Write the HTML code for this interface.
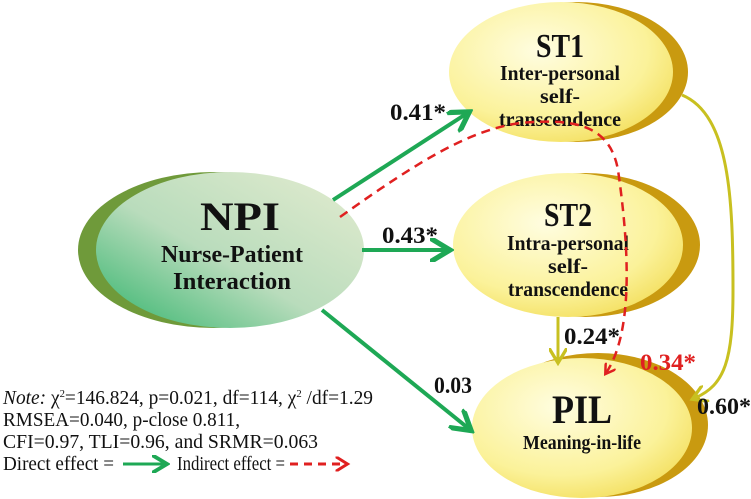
<!DOCTYPE html>
<html><head><meta charset="utf-8"><style>
body{margin:0;background:#fff;}
svg{display:block;}
text{font-family:"Liberation Serif",serif;font-weight:bold;fill:#111;text-anchor:middle;}
</style></head><body>
<svg width="751" height="499" viewBox="0 0 751 499" xmlns="http://www.w3.org/2000/svg">
<defs>
<linearGradient id="gn" x1="0" y1="1" x2="1" y2="0">
<stop offset="0" stop-color="#2fb36a"/><stop offset="0.45" stop-color="#b9dcbc"/><stop offset="1" stop-color="#e4ecd0"/>
</linearGradient>
<radialGradient id="yl" cx="0.4" cy="0.35" r="0.75">
<stop offset="0" stop-color="#fffde0"/><stop offset="0.65" stop-color="#fbf29a"/><stop offset="1" stop-color="#f2dc55"/>
</radialGradient>
<marker id="ag" markerWidth="6" markerHeight="6" refX="4" refY="3" orient="auto" markerUnits="strokeWidth"><path d="M0,0 L5,3 L0,6" fill="none" stroke="#1ea855" stroke-width="1.3"/></marker>
<marker id="ay" markerWidth="6" markerHeight="6" refX="4" refY="3" orient="auto" markerUnits="strokeWidth"><path d="M0,0 L5,3 L0,6" fill="none" stroke="#c8c020" stroke-width="1.1"/></marker>
<marker id="ar" markerWidth="5" markerHeight="5" refX="3.5" refY="2.5" orient="auto" markerUnits="strokeWidth"><path d="M0,0 L4,2.5 L0,5" fill="none" stroke="#e02020" stroke-width="1"/></marker>
</defs>
<!-- NPI -->
<ellipse cx="214" cy="250" rx="136" ry="78" fill="#6f9a3a"/>
<ellipse cx="230" cy="250" rx="134" ry="78" fill="url(#gn)"/>
<text x="240" y="230" font-size="40" textLength="80" lengthAdjust="spacingAndGlyphs">NPI</text>
<text x="232" y="262" font-size="24" textLength="142" lengthAdjust="spacingAndGlyphs">Nurse-Patient</text>
<text x="232" y="289" font-size="24" textLength="118" lengthAdjust="spacingAndGlyphs">Interaction</text>
<!-- ST1 -->
<ellipse cx="576" cy="72" rx="112" ry="70" fill="#c99a10"/>
<ellipse cx="561" cy="72" rx="112" ry="70" fill="url(#yl)"/>
<text x="560" y="57" font-size="34" textLength="48" lengthAdjust="spacingAndGlyphs">ST1</text>
<text x="560" y="80" font-size="21" textLength="120" lengthAdjust="spacingAndGlyphs">Inter-personal</text>
<text x="560" y="103" font-size="21" textLength="40" lengthAdjust="spacingAndGlyphs">self-</text>
<text x="560" y="126" font-size="21" textLength="122" lengthAdjust="spacingAndGlyphs">transcendence</text>
<!-- ST2 -->
<ellipse cx="585" cy="245" rx="115" ry="72" fill="#c99a10"/>
<ellipse cx="568" cy="245" rx="115" ry="72" fill="url(#yl)"/>
<text x="568" y="226" font-size="34" textLength="48" lengthAdjust="spacingAndGlyphs">ST2</text>
<text x="568" y="250" font-size="21" textLength="122" lengthAdjust="spacingAndGlyphs">Intra-personal</text>
<text x="568" y="273" font-size="21" textLength="40" lengthAdjust="spacingAndGlyphs">self-</text>
<text x="568" y="296" font-size="21" textLength="120" lengthAdjust="spacingAndGlyphs">transcendence</text>
<!-- PIL -->
<ellipse cx="598" cy="425" rx="110" ry="72" fill="#c99a10"/>
<ellipse cx="582" cy="428" rx="110" ry="70" fill="url(#yl)"/>
<text x="582" y="423" font-size="40" textLength="60" lengthAdjust="spacingAndGlyphs">PIL</text>
<text x="582" y="449" font-size="20" textLength="118" lengthAdjust="spacingAndGlyphs">Meaning-in-life</text>
<!-- green arrows -->
<g stroke="#1ea855" stroke-width="4" fill="none">
<line x1="333" y1="200" x2="466" y2="114" marker-end="url(#ag)"/>
<line x1="362" y1="250" x2="446" y2="250" marker-end="url(#ag)"/>
<line x1="322" y1="310" x2="468" y2="428" marker-end="url(#ag)"/>
</g>
<!-- yellow arrows -->
<g stroke="#c8c020" stroke-width="3" fill="none">
<line x1="558" y1="317" x2="558" y2="360" marker-end="url(#ay)"/>
<path d="M682,95 C730,115 733,200 733,290 C733,360 725,385 695,398" marker-end="url(#ay)"/>
</g>
<!-- red dashed -->
<path d="M340,217 C420,160 470,130 520,123 C575,118 610,125 618,170 C628,240 635,330 606,373" fill="none" stroke="#e02020" stroke-width="2.5" stroke-dasharray="9,6" marker-end="url(#ar)"/>
<!-- labels -->
<g font-size="23">
<text x="418" y="120" textLength="56" lengthAdjust="spacingAndGlyphs">0.41*</text>
<text x="410" y="243" textLength="56" lengthAdjust="spacingAndGlyphs">0.43*</text>
<text x="592" y="344" textLength="56" lengthAdjust="spacingAndGlyphs">0.24*</text>
<text x="668" y="370" textLength="56" lengthAdjust="spacingAndGlyphs" style="fill:#e02020">0.34*</text>
<text x="453" y="393" textLength="38" lengthAdjust="spacingAndGlyphs">0.03</text>
<text x="724" y="414" textLength="54" lengthAdjust="spacingAndGlyphs">0.60*</text>
</g>
<!-- note -->
<g style="font-family:'Liberation Serif',serif;font-size:20px;fill:#111;">
<text x="3" y="404" textLength="370" lengthAdjust="spacingAndGlyphs" style="text-anchor:start;font-weight:normal;"><tspan font-style="italic">Note:</tspan> χ<tspan dy="-7" font-size="11">2</tspan><tspan dy="7">=146.824, p=0.021, df=114, χ</tspan><tspan dy="-7" font-size="11">2</tspan><tspan dy="7"> /df=1.29</tspan></text>
<text x="3" y="426" textLength="237" lengthAdjust="spacingAndGlyphs" style="text-anchor:start;font-weight:normal;">RMSEA=0.040, p-close 0.811,</text>
<text x="3" y="448" textLength="315" lengthAdjust="spacingAndGlyphs" style="text-anchor:start;font-weight:normal;">CFI=0.97, TLI=0.96, and SRMR=0.063</text>
<text x="3" y="470" textLength="111" lengthAdjust="spacingAndGlyphs" style="text-anchor:start;font-weight:normal;">Direct effect =</text>
<text x="177" y="470" textLength="108" lengthAdjust="spacingAndGlyphs" style="text-anchor:start;font-weight:normal;">Indirect effect =</text>
</g>
<line x1="123" y1="464" x2="164" y2="464" stroke="#1ea855" stroke-width="3" marker-end="url(#ag)"/>
<line x1="290" y1="464" x2="346" y2="464" stroke="#e02020" stroke-width="3" stroke-dasharray="8,6" marker-end="url(#ar)"/>
</svg>
</body></html>
